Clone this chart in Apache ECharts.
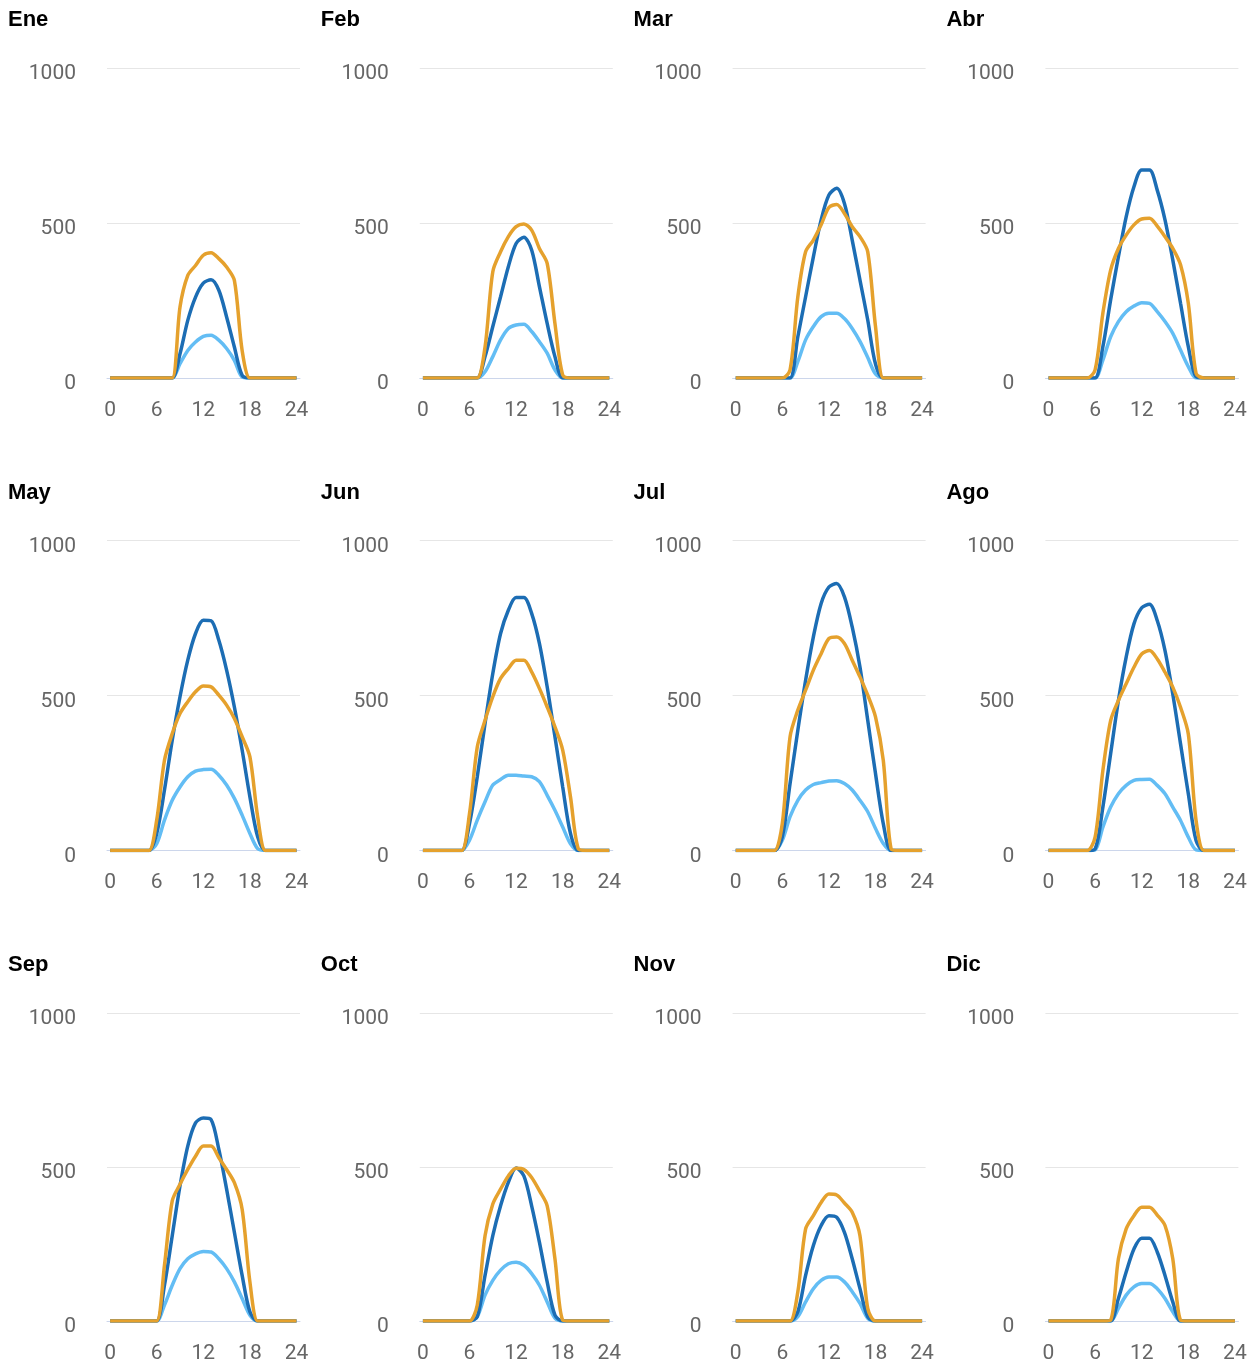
<!DOCTYPE html>
<html>
<head>
<meta charset="utf-8">
<script src="https://cdn.jsdelivr.net/npm/echarts@6/dist/echarts.min.js"></script>
<style>
  html, body { margin: 0; padding: 0; background: #fff; }
  #chart { width: 1257px; height: 1364px; }
</style>
</head>
<body>
<div id="chart"></div>
<script>
// months, one small chart each
const months = ['Ene', 'Feb', 'Mar', 'Abr', 'May', 'Jun', 'Jul', 'Ago', 'Sep', 'Oct', 'Nov', 'Dic'];
const hours = [0, 1, 2, 3, 4, 5, 6, 7, 8, 9, 10, 11, 12, 13, 14, 15, 16, 17, 18, 19, 20, 21, 22, 23, 24];
const xTicks = [0, 6, 12, 18, 24];

// dark blue line, one row per month (hour 0..24)
const darkBlue = [
  [0,0,0,0,0,0,0,0,0,78,186,261,306,317,283,197,100,9,0,0,0,0,0,0,0],
  [0,0,0,0,0,0,0,0,69,166,262,359,434,454,413,295,176,69,0,0,0,0,0,0,0],
  [0,0,0,0,0,0,0,0,133,262,391,510,590,612,563,445,316,187,45,0,0,0,0,0,0],
  [0,0,0,0,0,0,0,101,252,391,520,617,671,671,606,510,381,241,101,4,0,0,0,0,0],
  [0,0,0,0,0,0,55,195,356,496,614,700,743,741,678,582,463,324,173,44,0,0,0,0,0],
  [0,0,0,0,0,0,87,238,410,571,700,775,816,816,765,668,528,367,205,55,0,0,0,0,0],
  [0,0,0,0,0,0,44,216,388,549,689,797,850,861,818,721,592,420,248,87,0,0,0,0,0],
  [0,0,0,0,0,0,5,140,312,484,624,731,783,794,742,645,505,344,183,32,0,0,0,0,0],
  [0,0,0,0,0,0,0,116,277,439,568,643,659,654,557,428,288,148,30,0,0,0,0,0,0],
  [0,0,0,0,0,0,0,14,148,277,374,450,497,471,374,256,127,19,0,0,0,0,0,0,0],
  [0,0,0,0,0,0,0,0,30,148,245,310,342,337,288,202,105,14,0,0,0,0,0,0,0],
  [0,0,0,0,0,0,0,0,0,73,159,234,269,269,224,148,62,0,0,0,0,0,0,0,0]
];

// light blue line
const lightBlue = [
  [0,0,0,0,0,0,0,0,0,46,89,116,134,138,122,95,57,3,0,0,0,0,0,0,0],
  [0,0,0,0,0,0,0,0,20,69,123,160,171,173,150,117,80,26,0,0,0,0,0,0,0],
  [0,0,0,0,0,0,0,0,53,123,166,198,209,209,192,160,118,66,13,0,0,0,0,0,0],
  [0,0,0,0,0,0,0,58,133,182,214,232,243,241,214,182,144,90,37,0,0,0,0,0,0],
  [0,0,0,0,0,0,22,98,162,205,238,256,261,262,243,211,168,114,55,6,0,0,0,0,0],
  [0,0,0,0,0,0,33,98,157,211,229,243,243,240,238,222,178,130,76,22,0,0,0,0,0],
  [0,0,0,0,0,0,33,109,162,195,213,219,224,225,216,195,162,125,71,23,0,0,0,0,0],
  [0,0,0,0,0,0,2,75,140,183,210,226,229,230,210,183,140,97,43,2,0,0,0,0,0],
  [0,0,0,0,0,0,0,52,116,170,202,218,226,224,202,170,127,73,19,0,0,0,0,0,0],
  [0,0,0,0,0,0,0,14,84,132,165,186,191,181,154,116,62,9,0,0,0,0,0,0,0],
  [0,0,0,0,0,0,0,0,14,62,105,132,143,143,127,95,57,9,0,0,0,0,0,0,0],
  [0,0,0,0,0,0,0,0,0,41,84,111,122,122,105,73,30,0,0,0,0,0,0,0,0]
];

// orange line
const orange = [
  [0,0,0,0,0,0,0,0,0,229,331,363,396,404,385,358,315,89,0,0,0,0,0,0,0],
  [0,0,0,0,0,0,0,0,100,343,407,456,488,497,477,418,370,176,10,0,0,0,0,0,0],
  [0,0,0,0,0,0,0,26,262,407,445,494,550,560,531,488,456,407,166,0,0,0,0,0,0],
  [0,0,0,0,0,0,26,209,348,418,461,494,513,515,490,456,418,365,241,15,0,0,0,0,0],
  [0,0,0,0,0,0,98,291,377,442,480,512,531,528,501,469,426,367,302,109,0,0,0,0,0],
  [0,0,0,0,0,0,119,334,420,496,555,587,614,614,576,523,463,399,324,173,6,0,0,0,0],
  [0,0,0,0,0,0,87,367,453,517,582,635,684,689,668,614,560,501,431,291,6,0,0,0,0],
  [0,0,0,0,0,0,43,258,419,484,538,591,634,645,618,575,527,462,376,97,0,0,0,0,0],
  [0,0,0,0,0,0,0,181,390,444,492,535,568,568,530,492,449,363,127,0,0,0,0,0,0],
  [0,0,0,0,0,0,0,52,277,380,428,471,496,492,466,423,374,202,3,0,0,0,0,0,0],
  [0,0,0,0,0,0,0,0,95,299,342,385,412,409,383,353,277,41,0,0,0,0,0,0,0],
  [0,0,0,0,0,0,0,0,3,202,299,342,369,369,344,310,202,3,0,0,0,0,0,0,0]
];

const colW = 312.8;
const rowH = 472.5;

const chart = echarts.init(document.getElementById('chart'));

let titles = [], grids = [], xAxes = [], yAxes = [], series = [];

months.forEach((m, i) => {
  const col = i % 4, row = Math.floor(i / 4);
  const ox = col * colW, oy = row * rowH;

  titles.push({
    text: m,
    left: 8 + ox,
    top: 9 + oy,
    padding: 0,
    textStyle: { fontFamily: 'Liberation Sans', fontWeight: 'bold', fontSize: 22, color: '#000' }
  });
  grids.push({ left: 107 + ox, top: 68 + oy, width: 193, height: 310 });

  xAxes.push({
    gridIndex: i, type: 'value', min: -0.4, max: 24.45,
    axisLine: { lineStyle: { color: '#ccd6eb', width: 1 } },
    axisTick: { show: false },
    splitLine: { show: false },
    axisLabel: {
      customValues: xTicks, color: '#666', fontFamily: 'Roboto', fontSize: 21, margin: 22
    }
  });
  yAxes.push({
    gridIndex: i, type: 'value', min: 0, max: 1000, interval: 500,
    axisLine: { show: false }, axisTick: { show: false },
    splitLine: { lineStyle: { color: '#e6e6e6', width: 1 } },
    axisLabel: {
      color: '#666', fontFamily: 'Roboto', fontSize: 21, margin: 31,
      verticalAlign: 'top', lineHeight: 12,
      formatter: v => String(v)
    }
  });

  [[lightBlue, '#63bdf4'], [darkBlue, '#1c6db4'], [orange, '#e5a12d']].forEach(([src, c]) => {
    series.push({
      type: 'line', xAxisIndex: i, yAxisIndex: i,
      data: hours.map((h, k) => [h, src[i][k]]),
      showSymbol: false, smooth: 0.3, silent: true,
      lineStyle: { color: c, width: 3.5 }
    });
  });
});

chart.setOption({
  animation: false,
  title: titles,
  grid: grids,
  xAxis: xAxes,
  yAxis: yAxes,
  series: series
});
</script>
</body>
</html>
